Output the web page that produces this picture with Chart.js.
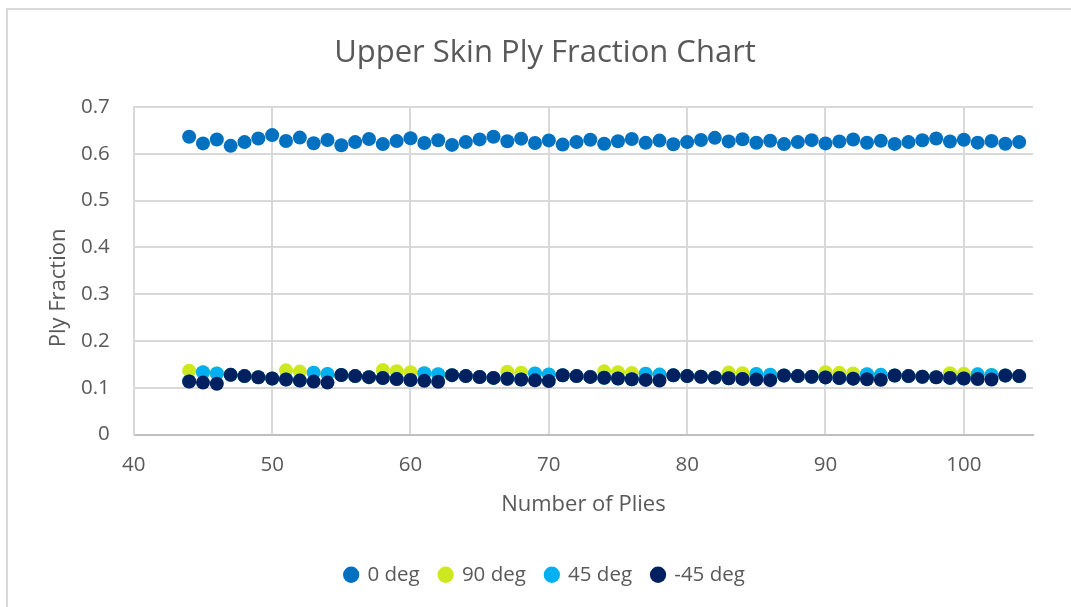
<!DOCTYPE html>
<html>
<head>
<meta charset="utf-8">
<title>Upper Skin Ply Fraction Chart</title>
<script src="https://cdn.jsdelivr.net/npm/chart.js@4.4.1/dist/chart.umd.min.js"></script>
<style>
    html, body { margin: 0; padding: 0; background: #fff; overflow: hidden; }
    #frame {
        position: absolute; left: 6px; top: 8px; width: 1200px; height: 700px;
        border-left: 2px solid #d9d9d9; border-top: 2px solid #d9d9d9;
    }
    #chart { position: absolute; left: 0; top: 0; }
</style>
</head>
<body>
<div id="frame"></div>
<canvas id="chart" width="1108" height="607"></canvas>
<script>
// Number of plies (x values)
const plies = [44, 45, 46, 47, 48, 49, 50, 51, 52, 53, 54, 55, 56, 57, 58, 59, 60, 61, 62, 63, 64,
    65, 66, 67, 68, 69, 70, 71, 72, 73, 74, 75, 76, 77, 78, 79, 80, 81, 82, 83, 84,
    85, 86, 87, 88, 89, 90, 91, 92, 93, 94, 95, 96, 97, 98, 99, 100, 101, 102, 103, 104];

// Ply fractions
const deg0 = [0.6364, 0.6222, 0.6304, 0.6170, 0.6250, 0.6327, 0.6400, 0.6275, 0.6346, 0.6226, 0.6296,
    0.6182, 0.6250, 0.6316, 0.6207, 0.6271, 0.6333, 0.6230, 0.6290, 0.6190, 0.6250,
    0.6308, 0.6364, 0.6269, 0.6324, 0.6232, 0.6286, 0.6197, 0.6250, 0.6301, 0.6216,
    0.6267, 0.6316, 0.6234, 0.6282, 0.6203, 0.6250, 0.6296, 0.6341, 0.6265, 0.6310,
    0.6235, 0.6279, 0.6207, 0.6250, 0.6292, 0.6222, 0.6264, 0.6304, 0.6237, 0.6277,
    0.6211, 0.6250, 0.6289, 0.6327, 0.6263, 0.6300, 0.6238, 0.6275, 0.6214, 0.6250];

const deg90 = [0.1364, 0.1333, 0.1304, 0.1277, 0.1250, 0.1224, 0.1200, 0.1373, 0.1346, 0.1321, 0.1296,
    0.1273, 0.1250, 0.1228, 0.1379, 0.1356, 0.1333, 0.1311, 0.1290, 0.1270, 0.1250,
    0.1231, 0.1212, 0.1343, 0.1324, 0.1304, 0.1286, 0.1268, 0.1250, 0.1233, 0.1351,
    0.1333, 0.1316, 0.1299, 0.1282, 0.1266, 0.1250, 0.1235, 0.1220, 0.1325, 0.1310,
    0.1294, 0.1279, 0.1264, 0.1250, 0.1236, 0.1333, 0.1319, 0.1304, 0.1290, 0.1277,
    0.1263, 0.1250, 0.1237, 0.1224, 0.1313, 0.1300, 0.1287, 0.1275, 0.1262, 0.1250];

const deg45 = [0.1136, 0.1333, 0.1304, 0.1277, 0.1250, 0.1224, 0.1200, 0.1176, 0.1154, 0.1321, 0.1296,
    0.1273, 0.1250, 0.1228, 0.1207, 0.1186, 0.1167, 0.1311, 0.1290, 0.1270, 0.1250,
    0.1231, 0.1212, 0.1194, 0.1176, 0.1304, 0.1286, 0.1268, 0.1250, 0.1233, 0.1216,
    0.1200, 0.1184, 0.1299, 0.1282, 0.1266, 0.1250, 0.1235, 0.1220, 0.1205, 0.1190,
    0.1294, 0.1279, 0.1264, 0.1250, 0.1236, 0.1222, 0.1209, 0.1196, 0.1290, 0.1277,
    0.1263, 0.1250, 0.1237, 0.1224, 0.1212, 0.1200, 0.1287, 0.1275, 0.1262, 0.1250];

const degMinus45 = [0.1136, 0.1111, 0.1087, 0.1277, 0.1250, 0.1224, 0.1200, 0.1176, 0.1154, 0.1132, 0.1111,
    0.1273, 0.1250, 0.1228, 0.1207, 0.1186, 0.1167, 0.1148, 0.1129, 0.1270, 0.1250,
    0.1231, 0.1212, 0.1194, 0.1176, 0.1159, 0.1143, 0.1268, 0.1250, 0.1233, 0.1216,
    0.1200, 0.1184, 0.1169, 0.1154, 0.1266, 0.1250, 0.1235, 0.1220, 0.1205, 0.1190,
    0.1176, 0.1163, 0.1264, 0.1250, 0.1236, 0.1222, 0.1209, 0.1196, 0.1183, 0.1170,
    0.1263, 0.1250, 0.1237, 0.1224, 0.1212, 0.1200, 0.1188, 0.1176, 0.1262, 0.1250];

const seriesNames = ['0 deg', '90 deg', '45 deg', '-45 deg'];
const seriesColors = ['#0070c0', '#cde81f', '#00b0f0', '#002060'];

const FONT = "'Open Sans', sans-serif";
const TEXT = '#595959';
const GRID = '#d9d9d9';

// Pair x values with each series
const toPoints = vals => plies.map((x, i) => ({ x, y: vals[i] }));
const allSeries = [deg0, deg90, deg45, degMinus45];

// Excel draws later series on top, so give later series a lower order
const datasets = allSeries.map((vals, i) => ({
    label: seriesNames[i],
    data: toPoints(vals),
    backgroundColor: seriesColors[i],
    borderColor: seriesColors[i],
    borderWidth: 0,
    pointRadius: 7,
    pointHoverRadius: 7,
    order: allSeries.length - i
}));

new Chart(document.getElementById('chart').getContext('2d'), {
    type: 'scatter',
    data: { datasets },
    options: {
        responsive: false,
        animation: false,
        layout: { padding: { left: 57, right: 75, top: 0, bottom: 12 } },
        plugins: {
            title: {
                display: true,
                text: 'Upper Skin Ply Fraction Chart',
                color: TEXT,
                font: { family: FONT, size: 31, weight: 'normal' },
                padding: { top: 34.5, bottom: 35.3 }
            },
            legend: {
                position: 'bottom',
                labels: {
                    color: TEXT,
                    font: { family: FONT, size: 20.5 },
                    usePointStyle: true,
                    pointStyle: 'circle',
                    boxWidth: 12,
                    boxHeight: 11.5,
                    padding: 20,
                    sort: (a, b) => a.datasetIndex - b.datasetIndex
                }
            },
            tooltip: { enabled: false }
        },
        scales: {
            x: {
                type: 'linear',
                min: 40,
                max: 105,
                border: { color: '#bfbfbf', width: 2 },
                grid: { color: GRID, lineWidth: 2, drawTicks: false },
                ticks: {
                    stepSize: 10,
                    includeBounds: false,
                    padding: 18.7,
                    color: TEXT,
                    font: { family: FONT, size: 20.5 }
                },
                title: {
                    display: true,
                    text: 'Number of Plies',
                    color: TEXT,
                    font: { family: FONT, size: 22 },
                    padding: { top: -5, bottom: 26.5 }
                }
            },
            y: {
                min: 0,
                max: 0.7,
                border: { color: GRID, width: 2 },
                grid: { color: GRID, lineWidth: 2, drawTicks: false },
                ticks: {
                    stepSize: 0.1,
                    padding: 24,
                    color: TEXT,
                    font: { family: FONT, size: 20.5 }
                },
                title: {
                    display: true,
                    // trailing spaces nudge the label down, as in the reference
                    text: 'Ply Fraction      ',
                    color: TEXT,
                    font: { family: FONT, size: 22 },
                    padding: { top: -11.4, bottom: -15 }
                }
            }
        }
    }
});
</script>
</body>
</html>
